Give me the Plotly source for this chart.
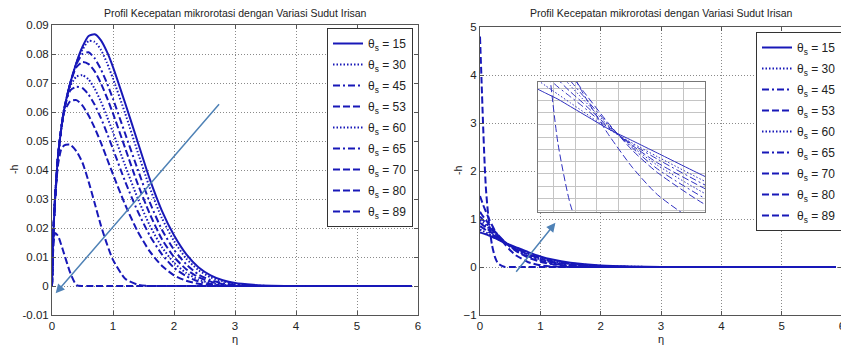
import plotly.graph_objects as go

# ---------------- data ----------------
theta_labels = ["15", "30", "45", "53", "60", "65", "70", "80", "89"]

# left panel: -h (microrotation) vs eta
eta_left = [0, 0.02, 0.05, 0.1, 0.15, 0.2, 0.3, 0.4, 0.5, 0.6, 0.7, 0.8, 0.9, 1.0,
            1.2, 1.4, 1.6, 1.8, 2.0, 2.2, 2.4, 2.6, 2.8, 3.0, 3.3, 3.6, 4.0, 5.0, 5.9]
h15 = [0, .017, .030, .045, .054, .061, .070, .077, .0825, .0862, .0868, .0848, .0808, .0755,
       .063, .050, .037, .026, .0175, .011, .0065, .0037, .002, .001, .0004, .0001, 0, 0, 0]
h30 = [0, .017, .030, .045, .054, .061, .070, .077, .0815, .0845, .0842, .0815, .0770, .0715,
       .0595, .0465, .0340, .0235, .0155, .0095, .0055, .0030, .0016, .0008, .0002, 0, 0, 0, 0]
h45 = [0, .017, .030, .045, .054, .061, .070, .0765, .0800, .0806, .0785, .0748, .0700, .0645,
       .0525, .0405, .0290, .0195, .0125, .0075, .0040, .0020, .0010, .0004, 0, 0, 0, 0, 0]
h53 = [0, .017, .030, .045, .054, .061, .070, .0755, .0772, .0765, .0740, .0700, .0650, .0595,
       .0475, .0355, .0250, .0162, .0100, .0058, .0030, .0015, .0006, .0002, 0, 0, 0, 0, 0]
h60 = [0, .017, .030, .045, .054, .061, .0690, .0722, .0727, .0712, .0680, .0637, .0585, .0530,
       .0415, .0305, .0210, .0135, .0080, .0045, .0022, .0010, .0004, 0, 0, 0, 0, 0, 0]
h65 = [0, .017, .030, .045, .054, .061, .0675, .0687, .0682, .0660, .0625, .0580, .0528, .0472,
       .0360, .0260, .0175, .0110, .0063, .0034, .0016, .0007, .0002, 0, 0, 0, 0, 0, 0]
h70 = [0, .017, .030, .045, .054, .060, .0637, .0641, .0622, .0588, .0545, .0495, .0440, .0385,
       .0280, .0190, .0120, .0070, .0037, .0018, .0008, .0003, 0, 0, 0, 0, 0, 0, 0]
h80 = [0, .017, .030, .042, .047, .0485, .0487, .0465, .0425, .0360, .0285, .0210, .0145, .0090,
       .0025, .0005, 0, 0, 0, 0, 0, 0, 0, 0, 0, 0, 0, 0, 0]
h89 = [0, .0125, .0183, .0172, .0143, .0110, .0045, .0003, 0, 0, 0, 0, 0, 0,
       0, 0, 0, 0, 0, 0, 0, 0, 0, 0, 0, 0, 0, 0, 0]

# right panel
eta_right = [0, 0.025, 0.05, 0.075, 0.1, 0.15, 0.2, 0.25, 0.3, 0.4, 0.5, 0.6, 0.8, 1.0,
             1.2, 1.5, 2.0, 2.5, 3.0, 4.0, 5.0, 5.9]
g15 = [.72, .71, .70, .69, .68, .655, .63, .60, .57, .51, .46, .41, .31, .22, .155, .09, .03, .008, .002, 0, 0, 0]
g30 = [.78, .765, .75, .735, .72, .685, .65, .615, .58, .51, .45, .395, .29, .20, .135, .075, .022, .005, .001, 0, 0, 0]
g45 = [.85, .83, .81, .79, .77, .725, .68, .64, .60, .515, .445, .385, .275, .185, .12, .062, .016, .003, 0, 0, 0, 0]
g53 = [.92, .895, .87, .845, .82, .765, .71, .66, .615, .52, .44, .37, .26, .17, .105, .05, .012, .002, 0, 0, 0, 0]
g60 = [.98, .95, .92, .89, .86, .80, .74, .685, .63, .525, .435, .36, .24, .155, .09, .04, .008, .001, 0, 0, 0, 0]
g65 = [1.05, 1.015, .98, .945, .91, .84, .77, .705, .645, .53, .43, .345, .22, .135, .075, .03, .005, 0, 0, 0, 0, 0]
g70 = [1.15, 1.10, 1.055, 1.01, .97, .89, .81, .735, .665, .535, .42, .33, .195, .11, .057, .02, .003, 0, 0, 0, 0, 0]
g80 = [1.48, 1.39, 1.30, 1.22, 1.15, 1.00, .87, .75, .655, .49, .35, .24, .10, .035, .009, .001, 0, 0, 0, 0, 0, 0]
g89 = [4.8, 3.9, 3.0, 2.2, 1.6, .9, .45, .2, .07, .005, 0, 0, 0, 0, 0, 0, 0, 0, 0, 0, 0, 0]

left_series = [h15, h30, h45, h53, h60, h65, h70, h80, h89]
right_series = [g15, g30, g45, g53, g60, g65, g70, g80, g89]

# arrows (tail -> head), data coords
arrow_left = [(2.76, 0.0632), (0.06, -0.0025)]
arrow_right = [(0.58, -0.13), (1.25, 0.92)]

# ---------------- styles ----------------
BLUE = "#1818b8"
DASHES = ["solid", "1.5px,2px", "7px,3px,2px,3px", "7px,3px", "1.5px,2px",
          "7px,3px,2px,3px", "7px,3px", "7px,3px", "7px,3px"]
FONT = "Liberation Sans, Arial, sans-serif"
TXT = "#222222"

fig = go.Figure()
for i, (lab, ys, dsh) in enumerate(zip(theta_labels, left_series, DASHES)):
    fig.add_trace(go.Scatter(x=eta_left, y=ys, mode="lines",
                             line=dict(color=BLUE, width=2, dash=dsh, shape="spline", smoothing=0.6),
                             name="θ<sub>s</sub> = " + lab, legend="legend", legendgroup="L" + str(i),
                             xaxis="x", yaxis="y"))
for i, (lab, ys, dsh) in enumerate(zip(theta_labels, right_series, DASHES)):
    fig.add_trace(go.Scatter(x=eta_right, y=ys, mode="lines",
                             line=dict(color=BLUE, width=2, dash=dsh, shape="spline", smoothing=0.6),
                             name="θ<sub>s</sub> = " + lab, legend="legend2", legendgroup="R" + str(i),
                             xaxis="x2", yaxis="y2"))
for lab, ys, dsh in zip(theta_labels, right_series, DASHES):
    fig.add_trace(go.Scatter(x=eta_right, y=ys, mode="lines",
                             line=dict(color="#3030c0", width=1, dash=dsh, shape="spline", smoothing=0.6),
                             showlegend=False, xaxis="x3", yaxis="y3"))

# page body has an 8px margin: map screen pixels to figure fractions
OFF = 8
W, H = 849 - OFF, 345 - OFF
def fx(px): return (px - OFF) / W
def fy(py): return 1 - (py - OFF) / H

ax_common = dict(showline=True, linecolor="#555555", linewidth=1, mirror="ticks",
                 ticks="inside", ticklen=4, tickcolor="#555555", automargin=False,
                 showgrid=True, gridcolor="#8a8a8a", griddash="1px,2px", gridwidth=1,
                 zeroline=False, tickfont=dict(family=FONT, size=11.5, color=TXT))

left_yt = [-0.01, 0, 0.01, 0.02, 0.03, 0.04, 0.05, 0.06, 0.07, 0.08, 0.09]
left_yl = ["-0.01", "0", "0.01", "0.02", "0.03", "0.04", "0.05", "0.06", "0.07", "0.08", "0.09"]
xt = [0, 1, 2, 3, 4, 5, 6]
right_yt = [-1, 0, 1, 2, 3, 4, 5]

inset_common = dict(showline=True, linecolor="#777777", mirror=True, showticklabels=False, ticks="",
                    showgrid=True, gridcolor="#c4c4c4", gridwidth=1, zeroline=False, automargin=False)

fig.update_layout(
    template="none",
    width=W, height=H, margin=dict(l=0, r=0, t=0, b=0, pad=0),
    paper_bgcolor="white", plot_bgcolor="white",
    font=dict(family=FONT, color=TXT),
    xaxis=dict(domain=[fx(52), fx(418)], range=[0, 6], tickvals=xt, anchor="y", **ax_common),
    yaxis=dict(domain=[fy(315), fy(25)], range=[-0.01, 0.09], tickvals=left_yt, ticktext=left_yl,
               anchor="x", **ax_common),
    xaxis2=dict(domain=[fx(480), fx(842)], range=[0, 6], tickvals=xt, anchor="y2", **ax_common),
    yaxis2=dict(domain=[fy(315), fy(27)], range=[-1, 5], tickvals=right_yt, anchor="x2", **ax_common),
    xaxis3=dict(domain=[fx(538), fx(705)], range=[0.12, 0.79], tick0=0.1835, dtick=0.0865,
                anchor="y3", **inset_common),
    yaxis3=dict(domain=[fy(212), fy(82)], range=[0.17, 0.70], tick0=0.025, dtick=0.05,
                anchor="x3", **inset_common),
    legend=dict(x=fx(413), y=fy(28), xanchor="right", yanchor="top", bgcolor="white",
                bordercolor="#333333", borderwidth=1, font=dict(family=FONT, size=12, color=TXT),
                tracegroupgap=2),
    legend2=dict(x=fx(842), y=fy(32), xanchor="right", yanchor="top", bgcolor="white",
                 bordercolor="#333333", borderwidth=1, font=dict(family=FONT, size=12, color=TXT),
                 tracegroupgap=2),
    showlegend=True,
)

ann = []
title = "Profil Kecepatan mikrorotasi dengan Variasi Sudut Irisan"
for cx in (235, 661):
    ann.append(dict(text=title, x=fx(cx), y=fy(13), xref="paper", yref="paper", showarrow=False,
                    xanchor="center", yanchor="middle", font=dict(family=FONT, size=10.5, color=TXT)))
    ann.append(dict(text="η", x=fx(cx), y=fy(339), xref="paper", yref="paper", showarrow=False,
                    xanchor="center", yanchor="middle", font=dict(family=FONT, size=11, color=TXT)))
for cx, cy in ((14, 170), (458, 171)):
    ann.append(dict(text="-h", x=fx(cx), y=fy(cy), xref="paper", yref="paper", showarrow=False,
                    textangle=-90, xanchor="center", yanchor="middle",
                    font=dict(family=FONT, size=10.5, color=TXT)))
for (tail, head), xr, yr in ((arrow_left, "x", "y"), (arrow_right, "x2", "y2")):
    ann.append(dict(x=head[0], y=head[1], ax=tail[0], ay=tail[1], xref=xr, yref=yr, axref=xr, ayref=yr,
                    text="", showarrow=True, arrowhead=2, arrowsize=1.2, arrowwidth=1.5,
                    arrowcolor="#4f82b6"))
fig.update_layout(annotations=ann)

fig.write_html("out.html")
